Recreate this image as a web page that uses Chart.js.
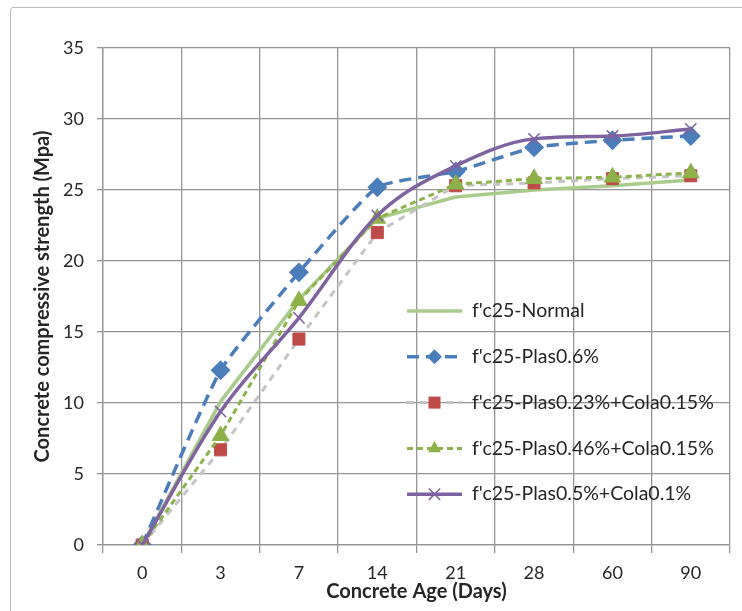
<!DOCTYPE html>
<html>
<head>
<meta charset="utf-8">
<script src="https://cdn.jsdelivr.net/npm/chart.js@4.4.1/dist/chart.umd.min.js"></script>
<style>
  html, body { margin: 0; padding: 0; background: #fff; }
  #wrap { position: relative; width: 742px; height: 611px; }
  #frame { position: absolute; left: 10px; top: 7px; width: 740px; height: 610px; border: 1px solid #bdbdbd; border-radius: 3px; box-sizing: border-box; }
  canvas { position: absolute; left: 0; top: 0; }
</style>
</head>
<body>
<div id="wrap">
  <div id="frame"></div>
  <canvas id="c" width="742" height="611"></canvas>
</div>
<script>
// ---- data ----
const categories = ['0', '3', '7', '14', '21', '28', '60', '90'];
const seriesNames = [
  "f'c25-Normal",
  "f'c25-Plas0.6%",
  "f'c25-Plas0.23%+Cola0.15%",
  "f'c25-Plas0.46%+Cola0.15%",
  "f'c25-Plas0.5%+Cola0.1%"
];
const normal      = [0, 10.1, 17.3, 23.0, 24.5, 25.0, 25.3, 25.7];
const plas06      = [0, 12.3, 19.2, 25.2, 26.3, 28.0, 28.5, 28.8];
const plas023cola = [0, 6.7, 14.5, 22.0, 25.3, 25.5, 25.8, 26.0];
const plas046cola = [0, 7.7, 17.2, 23.0, 25.4, 25.8, 25.9, 26.2];
const plas05cola  = [0, 9.4, 16.0, 23.2, 26.7, 28.6, 28.8, 29.3];
const yTicks = [0, 5, 10, 15, 20, 25, 30, 35];

const FONT = "Lato, 'Open Sans', sans-serif";

const datasets = [
  { label: seriesNames[0], data: normal, borderColor: '#a9cc8a', backgroundColor: '#a9cc8a',
    borderWidth: 3.5, pointRadius: 0, pointStyle: false, tension: 0, order: 4 },
  { label: seriesNames[1], data: plas06, borderColor: '#4a7ebb', backgroundColor: '#4a7ebb',
    borderWidth: 3.5, borderDash: [12, 7], pointStyle: 'rectRot', pointRadius: 7.5,
    pointBorderColor: '#4a7ebb', pointBackgroundColor: '#4a7ebb', tension: 0.15, order: 3 },
  { label: seriesNames[2], data: plas023cola, borderColor: '#c4c4c4', backgroundColor: '#be4b48',
    borderWidth: 3, borderDash: [7, 6], pointStyle: 'rect', pointRadius: 8.5,
    pointBorderColor: '#be4b48', pointBackgroundColor: '#be4b48', pointBorderWidth: 1, tension: 0, order: 2 },
  { label: seriesNames[3], data: plas046cola, borderColor: '#8db24a', backgroundColor: '#8db24a',
    borderWidth: 3, borderDash: [6, 4], pointStyle: 'triangle', pointRadius: 7.5,
    pointBorderColor: '#8db24a', pointBackgroundColor: '#8db24a', tension: 0, order: 1 },
  { label: seriesNames[4], data: plas05cola, borderColor: '#7f63a1', backgroundColor: '#7f63a1',
    borderWidth: 3.5, pointStyle: 'crossRot', pointRadius: 8, pointBorderWidth: 1.5,
    pointBorderColor: '#7f63a1', cubicInterpolationMode: 'monotone', order: 0 }
];

function drawMarker(ctx, style, r, x, y, color, bw) {
  ctx.save();
  ctx.setLineDash([]);
  ctx.fillStyle = color; ctx.strokeStyle = color; ctx.lineWidth = bw || 1;
  ctx.beginPath();
  if (style === 'rectRot') {
    ctx.moveTo(x, y - r); ctx.lineTo(x + r, y); ctx.lineTo(x, y + r); ctx.lineTo(x - r, y); ctx.closePath();
    ctx.fill();
  } else if (style === 'rect') {
    const s = r * Math.SQRT1_2; ctx.rect(x - s, y - s, 2 * s, 2 * s); ctx.fill();
  } else if (style === 'triangle') {
    const h = r * 1.5, side = h * 2 / Math.sqrt(3);
    ctx.moveTo(x, y - h * 2 / 3); ctx.lineTo(x + side / 2, y + h / 3); ctx.lineTo(x - side / 2, y + h / 3); ctx.closePath();
    ctx.fill();
  } else if (style === 'crossRot') {
    const d = r * Math.SQRT1_2;
    ctx.moveTo(x - d, y - d); ctx.lineTo(x + d, y + d); ctx.moveTo(x + d, y - d); ctx.lineTo(x - d, y + d);
    ctx.stroke();
  }
  ctx.restore();
}

const insideLegend = {
  id: 'insideLegend',
  afterDraw(chart) {
    const ctx = chart.ctx;
    const area = chart.chartArea;
    const x0 = area.left + 304, x1 = x0 + 55, tx = x0 + 65;
    const yStart = area.top + 263, step = 45.8;
    chart.data.datasets.forEach((ds, i) => {
      const y = yStart + i * step;
      ctx.save();
      ctx.strokeStyle = ds.borderColor;
      ctx.lineWidth = ds.borderWidth;
      ctx.setLineDash(ds.borderDash || []);
      ctx.beginPath(); ctx.moveTo(x0, y); ctx.lineTo(x1, y); ctx.stroke();
      ctx.restore();
      if (ds.pointStyle) {
        drawMarker(ctx, ds.pointStyle, ds.pointRadius, (x0 + x1) / 2, y, ds.pointBackgroundColor || ds.pointBorderColor, ds.pointBorderWidth);
      }
      ctx.save();
      ctx.fillStyle = '#262626';
      ctx.font = '19.5px ' + FONT;
      ctx.textBaseline = 'middle';
      ctx.fillText(ds.label, tx, y);
      ctx.restore();
    });
  }
};

new Chart(document.getElementById('c'), {
  type: 'line',
  data: { labels: categories, datasets: datasets },
  plugins: [insideLegend],
  options: {
    responsive: false,
    animation: false,
    devicePixelRatio: 1,
    layout: { padding: { left: 0, top: 48, right: 12, bottom: 0 } },
    plugins: { legend: { display: false }, tooltip: { enabled: false } },
    scales: {
      x: {
        type: 'category',
        offset: true,
        grid: { offset: true, color: '#959595', lineWidth: 1.3, tickLength: 8, drawTicks: true },
        border: { color: '#959595', width: 1.3 },
        ticks: { color: '#262626', font: { family: FONT, size: 18 }, padding: 9, maxRotation: 0 },
        title: { display: true, text: 'Concrete Age (Days)', color: '#262626',
                 font: { family: FONT, size: 20, weight: 'bold' }, padding: { top: 0, bottom: 7 } },
        afterFit(scale) { scale.height = 66; }
      },
      y: {
        min: 0, max: 35,
        afterBuildTicks(scale) { scale.ticks = yTicks.map(v => ({ value: v })); },
        grid: { color: '#959595', lineWidth: 1.3, tickLength: 6 },
        border: { color: '#959595', width: 1.3 },
        ticks: { color: '#262626', font: { family: FONT, size: 18 }, padding: 13 },
        title: { display: true, text: 'Concrete compressive strength (Mpa)', color: '#262626',
                 font: { family: FONT, size: 20, weight: 'bold' }, padding: { top: 31, bottom: 0 } },
        afterFit(scale) { scale.width = 103; }
      }
    }
  }
});
</script>
</body>
</html>
